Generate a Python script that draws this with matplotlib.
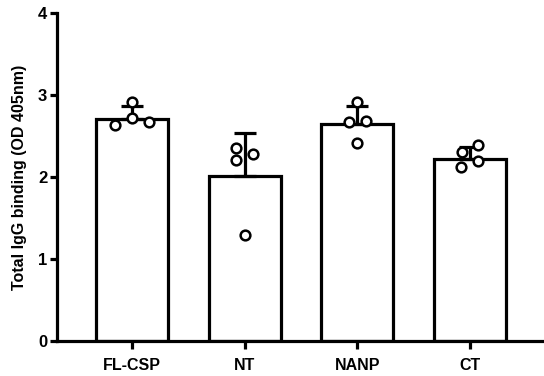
import matplotlib
matplotlib.use("Agg")
import matplotlib.pyplot as plt
import numpy as np

plt.rcParams['font.family'] = ['Liberation Sans', 'DejaVu Sans']

# data
groups = ['FL-CSP', 'NT', 'NANP', 'CT']
means = [2.71, 2.01, 2.65, 2.22]
err_up = [0.16, 0.53, 0.22, 0.14]
points = [
    [2.63, 2.92, 2.72, 2.67],
    [2.35, 2.21, 2.28, 1.29],
    [2.67, 2.92, 2.68, 2.42],
    [2.30, 2.39, 2.20, 2.12],
]
# horizontal scatter of the dots, in category units
jitter = [
    [-0.15, 0.0, 0.0, 0.15],
    [-0.08, -0.08, 0.07, 0.0],
    [-0.07, 0.0, 0.08, 0.0],
    [-0.07, 0.07, 0.07, -0.08],
]

fig = plt.figure(figsize=(5.44, 3.76), dpi=100)
ax = fig.add_axes([0.1048, 0.0931, 0.8952, 0.8723])

x = np.arange(len(groups))
lw = 2.3
ax.bar(x, means, width=0.64, color='white', edgecolor='black', linewidth=lw, zorder=2)
ax.errorbar(x, means, yerr=[np.zeros(len(x)), err_up], fmt='none', ecolor='black',
            elinewidth=lw, capsize=8, capthick=lw, zorder=3)
for i, pts in enumerate(points):
    ax.plot(x[i] + np.array(jitter[i]), pts, 'o', ms=7, mfc='white', mec='black',
            mew=1.8, zorder=4, clip_on=False)

ax.set_xlim(-0.665, 3.657)
ax.set_ylim(0, 4)
ax.set_yticks([0, 1, 2, 3, 4])
ax.set_xticks(x)
ax.set_xticklabels(groups, fontweight='bold', fontsize=11.5)
for lab in ax.get_yticklabels():
    lab.set_fontweight('bold')
    lab.set_fontsize(12)
ax.set_ylabel('Total IgG binding (OD 405nm)', fontweight='bold', fontsize=11.5)
ax.yaxis.set_label_coords(-0.062, 0.5)

for s in ['top', 'right']:
    ax.spines[s].set_visible(False)
for s in ['left', 'bottom']:
    ax.spines[s].set_linewidth(lw)
ax.tick_params(axis='both', width=lw, length=5, direction='out', pad=2)
ax.tick_params(axis='x', length=6, pad=6)

fig.savefig('out.png', dpi=100)
